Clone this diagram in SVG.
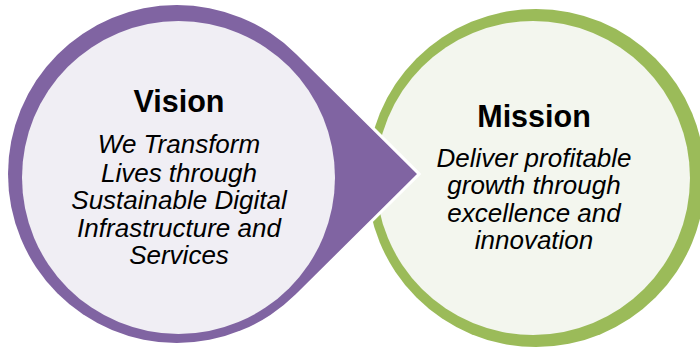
<svg xmlns="http://www.w3.org/2000/svg" width="700" height="347" viewBox="0 0 700 347">
  <style>
    .title { font-family: "Liberation Sans", Arial, sans-serif; font-weight: bold; font-size: 30.5px; fill: #000; text-anchor: middle; }
    .body { font-family: "Liberation Sans", Arial, sans-serif; font-style: italic; font-size: 26px; fill: #000; text-anchor: middle; }
  </style>
  <rect width="700" height="347" fill="#FFFFFF"/>
  <g id="mission">
    <circle cx="536" cy="178" r="169" fill="#9BBB59"/>
    <circle cx="533" cy="178" r="157" fill="#F3F6EE"/>
    <text class="title" x="534" y="127">Mission</text>
    <text class="body" x="534" y="166.5">Deliver profitable</text>
    <text class="body" x="534" y="193.5">growth through</text>
    <text class="body" x="534" y="221.5">excellence and</text>
    <text class="body" x="534" y="248.5">innovation</text>
  </g>
  <g id="vision">
    <path d="M 417 174 L 296 54 A 169 169 0 1 0 296 294 Z" fill="#8064A2" stroke="#FFFFFF" stroke-width="6" stroke-linejoin="miter" paint-order="stroke"/>
    <circle cx="178.5" cy="177.5" r="156.5" fill="#F0EEF4"/>
    <text class="title" x="179" y="112">Vision</text>
    <text class="body" x="179" y="153">We Transform</text>
    <text class="body" x="179" y="181.5">Lives through</text>
    <text class="body" x="179" y="208.5">Sustainable Digital</text>
    <text class="body" x="179" y="236.5">Infrastructure and</text>
    <text class="body" x="179" y="263.5">Services</text>
  </g>
  <g id="connectors"></g>
</svg>
